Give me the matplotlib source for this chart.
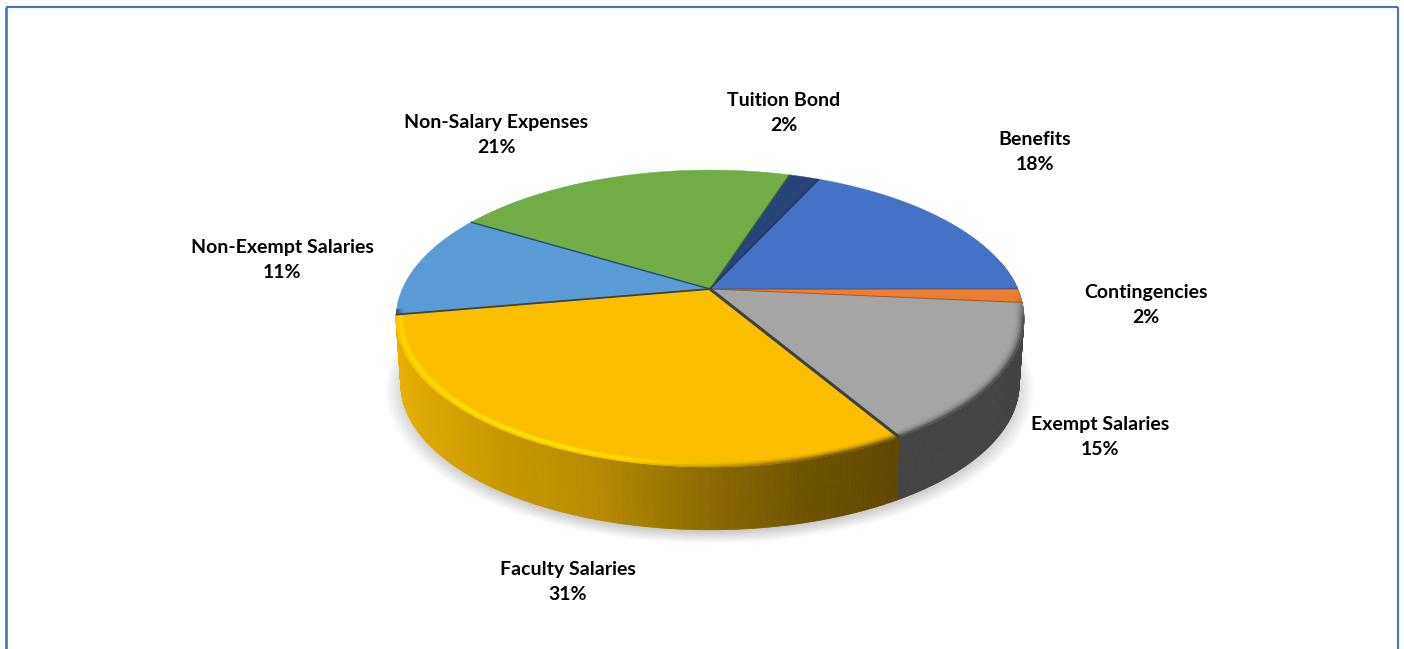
import numpy as np
import matplotlib
matplotlib.use("Agg")
import matplotlib.pyplot as plt
from matplotlib.collections import PolyCollection
from matplotlib.colors import to_rgb

# Budget shares, clockwise from the Benefits slice
categories = ["Benefits", "Contingencies", "Exempt Salaries", "Faculty Salaries",
              "Non-Exempt Salaries", "Non-Salary Expenses", "Tuition Bond"]
shares = [18.1, 1.5, 15.0, 30.7, 11.4, 21.3, 1.9]
colors = ["#4472C4", "#ED7D31", "#A5A5A5", "#FCBF00", "#5B9BD5", "#70AD47", "#264478"]
edge_colors = ["#2F5597", "#A9561E", "#404040", "#404040", "#1F4E79", "#3F6B28", "#1B3360"]
side_dark = {"Exempt Salaries": "#434343"}
label_pos = [(1035, 152), (1146, 305), (1100, 437), (568, 582),
             (282, 260), (496, 135), (784, 113)]

START = 24.7
CX, CY = 710.0, 289.0
A, B, K = 307.7, 142.6, 0.1987
DEPTH = 65.5
BASE_SCALE = 0.985


def top_xy(theta, r=1.0):
    """Project a point on the pie's upper face to figure pixels."""
    t = np.radians(theta)
    u, v = r * np.sin(t), r * np.cos(t)
    w = 1 + K * v
    return CX + A * u / w, CY - B * v / w


def base_xy(theta, r=1.0, grow=1.0):
    x, y = top_xy(theta, r)
    return CX + (x - CX) * BASE_SCALE * grow, CY + DEPTH + (y - CY) * BASE_SCALE * grow


def lerp(c1, c2, w):
    return tuple(np.array(c1) * (1 - w) + np.array(c2) * w)


fig = plt.figure(figsize=(14.04, 6.49), dpi=100, facecolor="white")
ax = fig.add_axes([0, 0, 1, 1])
ax.set_xlim(0, 1404)
ax.set_ylim(649, 0)
ax.axis("off")

# Frame around the chart area
ax.plot([6, 6], [649, 7], color="#4472C4", lw=1.9, solid_capstyle="butt")
ax.plot([6, 1398], [7, 7], color="#4472C4", lw=1.5, solid_capstyle="butt")
ax.plot([1398, 1398], [7, 649], color="#4472C4", lw=1.5, solid_capstyle="butt")

total = sum(shares)
spans = [s / total * 360 for s in shares]
starts = START + np.concatenate([[0], np.cumsum(spans)[:-1]])

# Soft shadow on the ground below the pie
all_angles = np.linspace(0, 360, 361)
for g in np.linspace(1.05, 0.97, 30):
    sx, sy = base_xy(all_angles, 1.0, g)
    ax.fill(sx, sy + 5, color="#000000", alpha=0.0075, lw=0, zorder=1)

gold_x = [395, 420, 500, 600, 710, 800, 895]
gold_r = [232, 222, 200, 181, 140, 112, 96]
gold_g = [176, 168, 152, 138, 106, 84, 70]

# Rim of the pie, built as thin vertical quads
quads, quad_colors = [], []
for name, a0, span, col in zip(categories, starts, spans, colors):
    steps = max(2, int(span * 2))
    edges = np.linspace(a0, a0 + span, steps + 1)
    for t0, t1 in zip(edges[:-1], edges[1:]):
        mid = (t0 + t1) / 2 % 360
        if not 79 < mid < 260:
            continue
        x0, y0 = top_xy(t0)
        x1, y1 = top_xy(t1)
        x2, y2 = base_xy(t1)
        x3, y3 = base_xy(t0)
        quads.append([(x0, y0), (x1, y1), (x2, y2), (x3, y3)])
        xm = (x0 + x1) / 2
        if name == "Faculty Salaries":
            c = (np.interp(xm, gold_x, gold_r) / 255, np.interp(xm, gold_x, gold_g) / 255, 0)
        elif name in side_dark:
            c = to_rgb(side_dark[name])
        else:
            c = lerp(to_rgb(col), (0, 0, 0), 0.45)
        quad_colors.append(c)
ax.add_collection(PolyCollection(quads, facecolors=quad_colors, edgecolors=quad_colors,
                                 linewidths=0.5, zorder=2))

# Upper face slices
for a0, span, col in zip(starts, spans, colors):
    arc = np.linspace(a0, a0 + span, max(3, int(span * 2)))
    x, y = top_xy(arc)
    ax.fill(np.r_[CX, x], np.r_[CY, y], color=col, lw=0.3, zorder=3)

# Bevel along the front edge: highlight towards the left, shading towards the right
ring = np.linspace(0.968, 1.0, 11)
strips, strip_colors = [], []
for name, a0, span, col in zip(categories, starts, spans, colors):
    steps = max(2, int(span * 2))
    edges = np.linspace(a0, a0 + span, steps + 1)
    base = to_rgb(col)
    for t0, t1 in zip(edges[:-1], edges[1:]):
        mid = (t0 + t1) / 2 % 360
        if not 92 < mid < 262:
            continue
        for r0, r1 in zip(ring[:-1], ring[1:]):
            p = ((r0 + r1) / 2 - ring[0]) / (ring[-1] - ring[0])
            if name == "Faculty Salaries":
                # Brightest around the front left, milder towards the far left
                lit = np.clip((mid - 172) / 30, 0, 1) * np.interp(mid, [205, 255], [1.0, 0.55])
                shade = np.clip((192 - mid) / 30, 0, 1)
                peak = np.exp(-((p - 0.6) / 0.24) ** 2)
                c = lerp(base, (1.0, 0.93, 0.0), peak * lit)
                c = lerp(c, (0.38, 0.27, 0.0), p ** 2.2 * shade)
            else:
                fade = np.clip((mid - 92) / 10, 0, 1)
                c = lerp(base, (0.26, 0.26, 0.26), p ** 2.2 * fade)
            tx0, ty0 = top_xy(t0, r0)
            tx1, ty1 = top_xy(t1, r0)
            tx2, ty2 = top_xy(t1, r1)
            tx3, ty3 = top_xy(t0, r1)
            strips.append([(tx0, ty0), (tx1, ty1), (tx2, ty2), (tx3, ty3)])
            strip_colors.append(c)
ax.add_collection(PolyCollection(strips, facecolors=strip_colors, edgecolors=strip_colors,
                                 linewidths=0.3, zorder=4))

# Slice boundaries on the upper face
widths = [0.8, 0.7, 2.2, 1.3, 1.0, 0.8, 0.8]
for a0, ec, lw in zip(starts + np.array(spans), edge_colors, widths):
    ex, ey = top_xy(a0)
    ax.plot([CX, ex], [CY, ey], color=ec, lw=lw, zorder=5, solid_capstyle="round")

# Category name above its rounded percentage
for name, share, (lx, ly) in zip(categories, shares, label_pos):
    pct = f"{share / total * 100:.0f}%"
    ax.text(lx, ly, f"{name}\n{pct}", ha="center", va="center", family="Lato",
            weight="bold", fontsize=14, linespacing=1.55, color="#000000", zorder=6)

fig.savefig("out.png", dpi=100, facecolor="white")
